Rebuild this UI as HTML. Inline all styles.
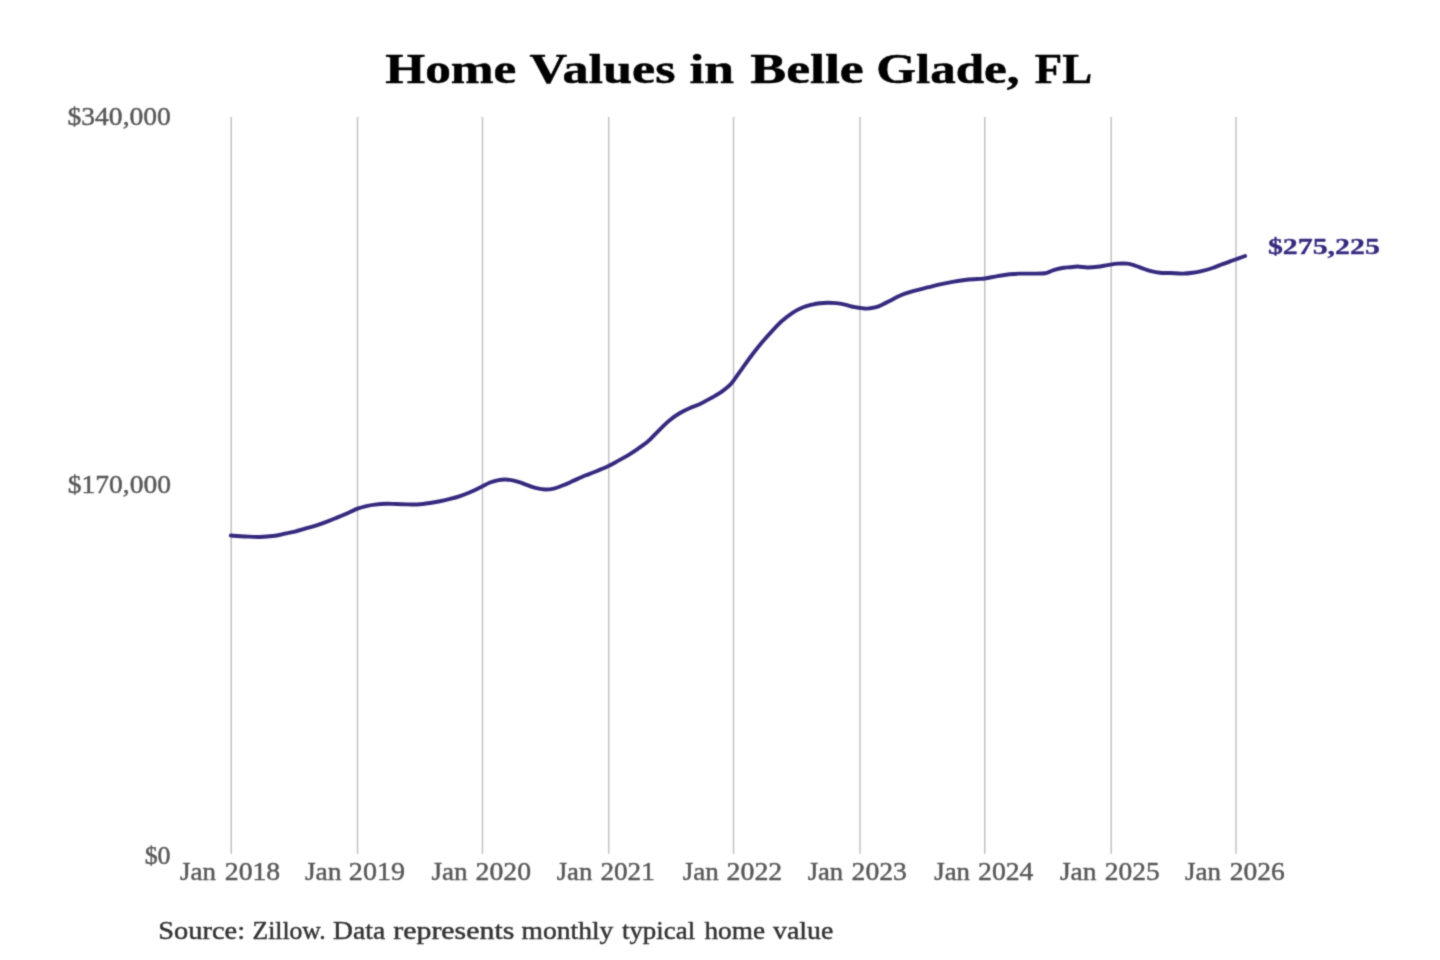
<!DOCTYPE html>
<html lang="en">
<head>
<meta charset="utf-8">
<title>Home Values in Belle Glade, FL</title>
<style>
html,body{margin:0;padding:0;background:#ffffff;}
body{width:1440px;height:960px;overflow:hidden;font-family:"Liberation Serif",serif;}
svg{display:block;will-change:transform;transform:translateZ(0);}
text{font-family:"Liberation Serif",serif;stroke-linejoin:round;}
.title{font-weight:bold;fill:#000000;stroke:#000000;}
.ax{fill:#585858;stroke:#585858;}
.src{fill:#333333;stroke:#333333;}
.val{font-weight:bold;fill:#352a7e;stroke:#352a7e;}
</style>
</head>
<body>
<svg width="1440" height="960" viewBox="0 0 1440 960">
<defs><filter id="soft" x="0" y="0" width="1440" height="960" filterUnits="userSpaceOnUse" color-interpolation-filters="sRGB"><feConvolveMatrix order="3" kernelMatrix="0.0289 0.1122 0.0289 0.1122 0.4356 0.1122 0.0289 0.1122 0.0289" divisor="1" edgeMode="duplicate" preserveAlpha="false"/></filter></defs>
<g filter="url(#soft)">
<rect x="0" y="0" width="1440" height="960" fill="#ffffff"/>
<g stroke="#c2c2c2" stroke-width="1.5" fill="none">
<line x1="231.24" y1="117.1" x2="231.24" y2="853.7"/>
<line x1="357.55" y1="117.1" x2="357.55" y2="853.7"/>
<line x1="482.45" y1="117.1" x2="482.45" y2="853.7"/>
<line x1="608.73" y1="117.1" x2="608.73" y2="853.7"/>
<line x1="733.55" y1="117.1" x2="733.55" y2="853.7"/>
<line x1="860.00" y1="117.1" x2="860.00" y2="853.7"/>
<line x1="984.75" y1="117.1" x2="984.75" y2="853.7"/>
<line x1="1111.20" y1="117.1" x2="1111.20" y2="853.7"/>
<line x1="1236.00" y1="117.1" x2="1236.00" y2="853.7"/>
</g>
<text class="title" x="385.28" y="82.80" font-size="42.00" stroke-width="0.50" textLength="130.93" lengthAdjust="spacingAndGlyphs">Home</text>
<text class="title" x="529.63" y="82.80" font-size="42.00" stroke-width="0.50" textLength="145.84" lengthAdjust="spacingAndGlyphs">Values</text>
<text class="title" x="689.41" y="82.80" font-size="42.00" stroke-width="0.50" textLength="44.64" lengthAdjust="spacingAndGlyphs">in</text>
<text class="title" x="750.27" y="82.80" font-size="42.00" stroke-width="0.50" textLength="113.47" lengthAdjust="spacingAndGlyphs">Belle</text>
<text class="title" x="876.20" y="82.80" font-size="42.00" stroke-width="0.50" textLength="143.40" lengthAdjust="spacingAndGlyphs">Glade,</text>
<text class="title" x="1034.82" y="82.80" font-size="42.00" stroke-width="0.50" textLength="57.35" lengthAdjust="spacingAndGlyphs">FL</text>
<text class="ax" x="67.50" y="124.70" font-size="25.60" stroke-width="0.45" textLength="103.39" lengthAdjust="spacingAndGlyphs">$340,000</text>
<text class="ax" x="67.87" y="492.70" font-size="25.60" stroke-width="0.45" textLength="103.16" lengthAdjust="spacingAndGlyphs">$170,000</text>
<text class="ax" x="144.67" y="864.00" font-size="25.60" stroke-width="0.45" textLength="25.93" lengthAdjust="spacingAndGlyphs">$0</text>
<text class="ax" x="179.95" y="879.80" font-size="25.60" stroke-width="0.45" textLength="35.97" lengthAdjust="spacingAndGlyphs">Jan</text>
<text class="ax" x="224.79" y="879.80" font-size="25.60" stroke-width="0.45" textLength="55.38" lengthAdjust="spacingAndGlyphs">2018</text>
<text class="ax" x="304.94" y="879.80" font-size="25.60" stroke-width="0.45" textLength="36.56" lengthAdjust="spacingAndGlyphs">Jan</text>
<text class="ax" x="348.89" y="879.80" font-size="25.60" stroke-width="0.45" textLength="56.15" lengthAdjust="spacingAndGlyphs">2019</text>
<text class="ax" x="431.41" y="879.80" font-size="25.60" stroke-width="0.45" textLength="36.06" lengthAdjust="spacingAndGlyphs">Jan</text>
<text class="ax" x="475.64" y="879.80" font-size="25.60" stroke-width="0.45" textLength="55.38" lengthAdjust="spacingAndGlyphs">2020</text>
<text class="ax" x="556.68" y="879.80" font-size="25.60" stroke-width="0.45" textLength="35.68" lengthAdjust="spacingAndGlyphs">Jan</text>
<text class="ax" x="600.42" y="879.80" font-size="25.60" stroke-width="0.45" textLength="54.33" lengthAdjust="spacingAndGlyphs">2021</text>
<text class="ax" x="682.68" y="879.80" font-size="25.60" stroke-width="0.45" textLength="36.01" lengthAdjust="spacingAndGlyphs">Jan</text>
<text class="ax" x="726.63" y="879.80" font-size="25.60" stroke-width="0.45" textLength="55.64" lengthAdjust="spacingAndGlyphs">2022</text>
<text class="ax" x="807.67" y="879.80" font-size="25.60" stroke-width="0.45" textLength="35.51" lengthAdjust="spacingAndGlyphs">Jan</text>
<text class="ax" x="851.64" y="879.80" font-size="25.60" stroke-width="0.45" textLength="55.29" lengthAdjust="spacingAndGlyphs">2023</text>
<text class="ax" x="934.20" y="879.80" font-size="25.60" stroke-width="0.45" textLength="35.80" lengthAdjust="spacingAndGlyphs">Jan</text>
<text class="ax" x="978.10" y="879.80" font-size="25.60" stroke-width="0.45" textLength="55.37" lengthAdjust="spacingAndGlyphs">2024</text>
<text class="ax" x="1059.94" y="879.80" font-size="25.60" stroke-width="0.45" textLength="36.56" lengthAdjust="spacingAndGlyphs">Jan</text>
<text class="ax" x="1104.80" y="879.80" font-size="25.60" stroke-width="0.45" textLength="54.83" lengthAdjust="spacingAndGlyphs">2025</text>
<text class="ax" x="1184.95" y="879.80" font-size="25.60" stroke-width="0.45" textLength="35.97" lengthAdjust="spacingAndGlyphs">Jan</text>
<text class="ax" x="1229.65" y="879.80" font-size="25.60" stroke-width="0.45" textLength="55.00" lengthAdjust="spacingAndGlyphs">2026</text>
<text class="val" x="1267.90" y="253.60" font-size="23.20" stroke-width="0.35" textLength="112.00" lengthAdjust="spacingAndGlyphs">$275,225</text>
<text class="src" x="158.33" y="938.70" font-size="25.60" stroke-width="0.45" textLength="86.70" lengthAdjust="spacingAndGlyphs">Source:</text>
<text class="src" x="252.50" y="938.70" font-size="25.60" stroke-width="0.45" textLength="73.10" lengthAdjust="spacingAndGlyphs">Zillow.</text>
<text class="src" x="333.13" y="938.70" font-size="25.60" stroke-width="0.45" textLength="52.06" lengthAdjust="spacingAndGlyphs">Data</text>
<text class="src" x="393.30" y="938.70" font-size="25.60" stroke-width="0.45" textLength="121.02" lengthAdjust="spacingAndGlyphs">represents</text>
<text class="src" x="521.60" y="938.70" font-size="25.60" stroke-width="0.45" textLength="91.76" lengthAdjust="spacingAndGlyphs">monthly</text>
<text class="src" x="621.93" y="938.70" font-size="25.60" stroke-width="0.45" textLength="73.29" lengthAdjust="spacingAndGlyphs">typical</text>
<text class="src" x="704.51" y="938.70" font-size="25.60" stroke-width="0.45" textLength="60.49" lengthAdjust="spacingAndGlyphs">home</text>
<text class="src" x="773.08" y="938.70" font-size="25.60" stroke-width="0.45" textLength="60.19" lengthAdjust="spacingAndGlyphs">value</text>
<path d="M230.80 535.55 C233.17 535.70 240.13 536.20 245.00 536.45 C249.87 536.70 255.00 537.16 260.00 537.05 C265.00 536.94 270.83 536.37 275.00 535.80 C279.17 535.23 281.67 534.36 285.00 533.65 C288.33 532.94 291.67 532.38 295.00 531.55 C298.33 530.72 301.67 529.61 305.00 528.65 C308.33 527.69 311.67 526.83 315.00 525.80 C318.33 524.77 321.67 523.67 325.00 522.45 C328.33 521.22 331.67 519.81 335.00 518.45 C338.33 517.09 341.25 515.93 345.00 514.30 C348.75 512.67 353.96 510.01 357.50 508.65 C361.04 507.29 363.33 506.82 366.25 506.15 C369.17 505.48 371.67 505.04 375.00 504.65 C378.33 504.26 382.75 503.91 386.25 503.80 C389.75 503.69 392.46 503.91 396.00 504.00 C399.54 504.09 403.92 504.27 407.50 504.35 C411.08 504.43 413.75 504.72 417.50 504.50 C421.25 504.28 426.25 503.59 430.00 503.05 C433.75 502.51 436.67 501.93 440.00 501.25 C443.33 500.57 446.67 499.82 450.00 498.95 C453.33 498.08 456.67 497.17 460.00 496.05 C463.33 494.93 466.67 493.67 470.00 492.25 C473.33 490.83 476.67 489.17 480.00 487.55 C483.33 485.93 487.08 483.76 490.00 482.55 C492.92 481.34 495.00 480.80 497.50 480.30 C500.00 479.80 502.50 479.55 505.00 479.55 C507.50 479.55 510.00 479.82 512.50 480.30 C515.00 480.78 517.08 481.47 520.00 482.45 C522.92 483.43 527.08 485.15 530.00 486.15 C532.92 487.15 535.00 487.88 537.50 488.45 C540.00 489.02 542.29 489.52 545.00 489.55 C547.71 489.58 550.83 489.32 553.75 488.65 C556.67 487.98 559.58 486.69 562.50 485.55 C565.42 484.41 568.33 483.09 571.25 481.80 C574.17 480.51 577.71 478.84 580.00 477.80 C582.29 476.76 582.50 476.55 585.00 475.55 C587.50 474.55 591.25 473.30 595.00 471.80 C598.75 470.30 603.75 468.32 607.50 466.55 C611.25 464.78 614.17 462.98 617.50 461.15 C620.83 459.32 624.17 457.57 627.50 455.55 C630.83 453.53 634.17 451.34 637.50 449.05 C640.83 446.76 644.58 444.26 647.50 441.80 C650.42 439.34 652.50 436.80 655.00 434.30 C657.50 431.80 660.00 429.19 662.50 426.80 C665.00 424.41 667.08 422.24 670.00 419.95 C672.92 417.66 676.67 415.03 680.00 413.05 C683.33 411.07 686.67 409.55 690.00 408.05 C693.33 406.55 696.67 405.62 700.00 404.05 C703.33 402.48 707.50 400.02 710.00 398.65 C712.50 397.28 712.92 397.10 715.00 395.85 C717.08 394.60 720.00 392.97 722.50 391.15 C725.00 389.33 727.92 387.03 730.00 384.95 C732.08 382.87 732.92 381.47 735.00 378.65 C737.08 375.83 739.58 372.11 742.50 368.05 C745.42 363.99 749.17 358.68 752.50 354.30 C755.83 349.93 759.17 345.76 762.50 341.80 C765.83 337.84 769.17 334.09 772.50 330.55 C775.83 327.01 779.17 323.51 782.50 320.55 C785.83 317.59 789.17 314.98 792.50 312.80 C795.83 310.62 799.17 308.82 802.50 307.45 C805.83 306.07 809.58 305.24 812.50 304.55 C815.42 303.86 817.50 303.59 820.00 303.30 C822.50 303.01 824.83 302.82 827.50 302.80 C830.17 302.78 833.08 302.84 836.00 303.15 C838.92 303.46 841.83 303.98 845.00 304.65 C848.17 305.32 851.46 306.48 855.00 307.15 C858.54 307.82 862.92 308.60 866.25 308.65 C869.58 308.70 872.29 308.13 875.00 307.45 C877.71 306.77 880.00 305.67 882.50 304.55 C885.00 303.43 887.50 302.04 890.00 300.75 C892.50 299.46 895.00 297.98 897.50 296.80 C900.00 295.62 902.08 294.69 905.00 293.65 C907.92 292.61 911.25 291.58 915.00 290.55 C918.75 289.52 923.33 288.49 927.50 287.45 C931.67 286.41 935.83 285.24 940.00 284.30 C944.17 283.36 948.33 282.53 952.50 281.80 C956.67 281.07 960.83 280.41 965.00 279.95 C969.17 279.49 974.17 279.30 977.50 279.05 C980.83 278.80 981.67 278.93 985.00 278.45 C988.33 277.97 993.33 276.84 997.50 276.15 C1001.67 275.46 1006.25 274.72 1010.00 274.30 C1013.75 273.88 1016.25 273.76 1020.00 273.65 C1023.75 273.54 1028.33 273.71 1032.50 273.65 C1036.67 273.59 1042.08 273.65 1045.00 273.30 C1047.92 272.95 1048.12 272.22 1050.00 271.55 C1051.88 270.88 1053.96 269.93 1056.25 269.30 C1058.54 268.68 1061.46 268.14 1063.75 267.80 C1066.04 267.46 1067.71 267.46 1070.00 267.25 C1072.29 267.04 1074.58 266.52 1077.50 266.55 C1080.42 266.58 1084.17 267.41 1087.50 267.45 C1090.83 267.49 1094.17 267.18 1097.50 266.80 C1100.83 266.42 1104.17 265.68 1107.50 265.15 C1110.83 264.63 1114.17 263.90 1117.50 263.65 C1120.83 263.40 1124.58 263.33 1127.50 263.65 C1130.42 263.97 1132.50 264.78 1135.00 265.55 C1137.50 266.32 1140.00 267.43 1142.50 268.30 C1145.00 269.18 1147.08 270.05 1150.00 270.80 C1152.92 271.55 1156.67 272.43 1160.00 272.80 C1163.33 273.18 1166.25 272.91 1170.00 273.05 C1173.75 273.19 1178.75 273.69 1182.50 273.65 C1186.25 273.61 1189.17 273.28 1192.50 272.80 C1195.83 272.32 1199.17 271.60 1202.50 270.80 C1205.83 270.00 1209.17 269.11 1212.50 268.00 C1215.83 266.89 1219.17 265.40 1222.50 264.15 C1225.83 262.90 1229.58 261.56 1232.50 260.50 C1235.42 259.44 1237.90 258.55 1240.00 257.80 C1242.10 257.05 1244.25 256.30 1245.10 256.00" fill="none" stroke="#352a7e" stroke-width="3.9" stroke-linecap="round" stroke-linejoin="round"/>
</g>
</svg>
</body>
</html>
